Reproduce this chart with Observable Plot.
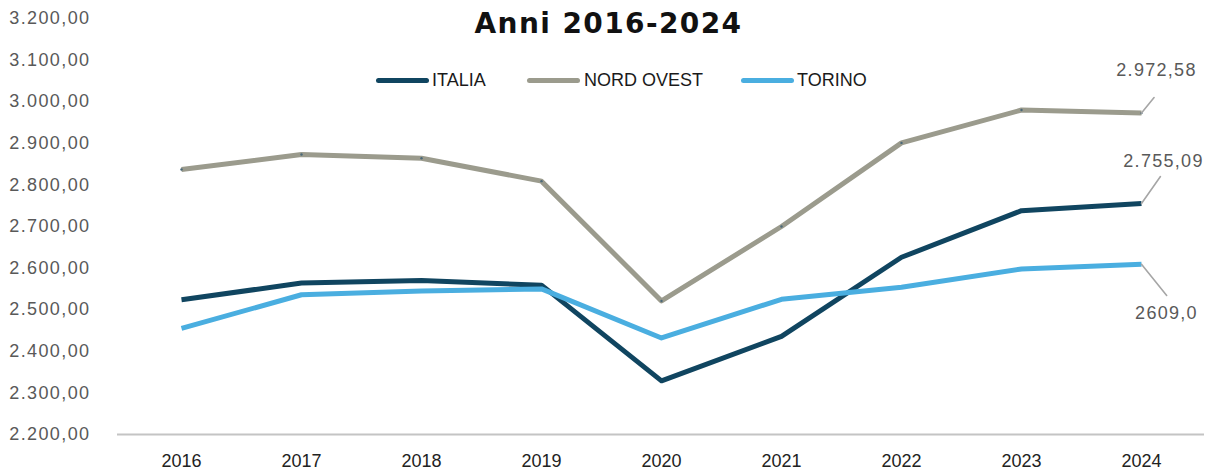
<!DOCTYPE html>
<html>
<head>
<meta charset="utf-8">
<script src="https://cdn.jsdelivr.net/npm/d3@7"></script>
<script src="https://cdn.jsdelivr.net/npm/@observablehq/plot@0.6"></script>
<style>
  html, body { margin: 0; padding: 0; background: #fff; }
  #wrap { position: relative; width: 1217px; height: 473px; overflow: hidden; }
  #title { position: absolute; left: 0; width: 1217px; top: 7px; text-align: center;
    font-family: "DejaVu Sans", Verdana, sans-serif; font-weight: bold; font-size: 28px;
    letter-spacing: 1.4px; color: #111; line-height: 34px; }
  .leg { position: absolute; top: 69px; font-family: "Liberation Sans", Arial, sans-serif; font-size: 18px; color: #1a1a1a; line-height: 22px; white-space: nowrap; }
  .leg span.sw { position: absolute; top: 9px; height: 5px; border-radius: 3px; }
  g[aria-label="y-axis tick label"] text { letter-spacing: 1.4px; }
  g.endlabel text { letter-spacing: 1.3px; }
</style>
</head>
<body>
<div id="wrap">
  <div id="chart"></div>
  <div id="title">Anni 2016-2024</div>
  <div id="legend"></div>
</div>
<script>
const years = ["2016","2017","2018","2019","2020","2021","2022","2023","2024"];
const italia = [2524, 2564, 2570, 2559, 2329, 2436, 2626, 2738, 2755.09];
const nordOvest = [2837, 2873, 2864, 2809, 2521, 2700, 2901, 2980, 2972.58];
const torino = [2455, 2536, 2545, 2550, 2432, 2525, 2554, 2598, 2609.0];
const seriesNames = ["ITALIA", "NORD OVEST", "TORINO"];
const seriesColors = ["#104560", "#9b9b8d", "#4aaee0"];
const endLabels = ["2.755,09", "2.972,58", "2609,0"];
const yTicks = [2200, 2300, 2400, 2500, 2600, 2700, 2800, 2900, 3000, 3100, 3200];

const seriesValues = [italia, nordOvest, torino];
const data = [];
seriesNames.forEach((s, i) => years.forEach((y, j) => data.push({serie: s, year: y, value: seriesValues[i][j]})));

const itLocale = d3.formatLocale({decimal: ",", thousands: ".", grouping: [3], currency: ["", " €"]});
const fmt = itLocale.format(",.2f");

// per-series annotation geometry (pixel offsets)
const annot = {
  "ITALIA": {dx: 22, dy: -42, len: 33, rot: 35},
  "NORD OVEST": {dx: 15, dy: -43, len: 20, rot: 39},
  "TORINO": {dx: 25, dy: 49, len: 40, rot: 141}
};
const lastPts = seriesNames.map((s, i) => ({serie: s, year: years[years.length - 1], value: seriesValues[i][years.length - 1], label: endLabels[i]}));

const lineShape = { draw(context, l) { context.moveTo(0, 0); context.lineTo(0, -l); } };

const marks = [
  Plot.ruleY([2200], {stroke: "#c4c4c4", strokeWidth: 2}),
  Plot.axisY({ticks: yTicks, tickFormat: fmt, tickSize: 0, tickPadding: 27, fontSize: 18,
    fill: "#595959", fontFamily: "Liberation Sans, Arial, sans-serif"}),
  Plot.axisX({tickSize: 0, tickPadding: 20, fontSize: 18, fill: "#222",
    fontFamily: "Liberation Sans, Arial, sans-serif"}),
  Plot.line(data, {x: "year", y: "value", z: "serie", stroke: "serie", strokeWidth: 5,
    strokeLinejoin: "round", strokeLinecap: "butt"}),
  Plot.dot(data.filter(d => d.serie === "NORD OVEST"), {x: "year", y: "value", r: 1.2, fill: "#4a6878"})
];
for (const p of lastPts) {
  const a = annot[p.serie];
  marks.push(Plot.vector([p], {x: "year", y: "value", length: a.len, rotate: a.rot, anchor: "start",
    shape: lineShape, stroke: "#a6a6a6", strokeWidth: 1.6}));
  marks.push(Plot.text([p], {x: "year", y: "value", text: "label", dx: a.dx, dy: a.dy, fontSize: 18,
    fill: "#595959", fontFamily: "Liberation Sans, Arial, sans-serif", className: "endlabel"}));
}

const chart = Plot.plot({
  width: 1217,
  height: 473,
  marginTop: 18,
  marginBottom: 39,
  marginLeft: 117,
  marginRight: 13,
  style: {background: "#fff", fontFamily: "Liberation Sans, Arial, sans-serif"},
  x: {type: "point", domain: years, padding: 0.5, label: null},
  y: {domain: [2200, 3200], label: null},
  color: {domain: seriesNames, range: seriesColors},
  marks
});
document.getElementById("chart").appendChild(chart);

// legend
const legendPos = [{lx: 376, tx: 432}, {lx: 527, tx: 584}, {lx: 741, tx: 797}];
const legend = document.getElementById("legend");
seriesNames.forEach((s, i) => {
  const div = document.createElement("div");
  div.className = "leg";
  div.style.left = legendPos[i].tx + "px";
  div.textContent = s;
  const sw = document.createElement("span");
  sw.className = "sw";
  sw.style.left = (legendPos[i].lx - legendPos[i].tx) + "px";
  sw.style.width = "53px";
  sw.style.background = seriesColors[i];
  div.appendChild(sw);
  legend.appendChild(div);
});
</script>
</body>
</html>
